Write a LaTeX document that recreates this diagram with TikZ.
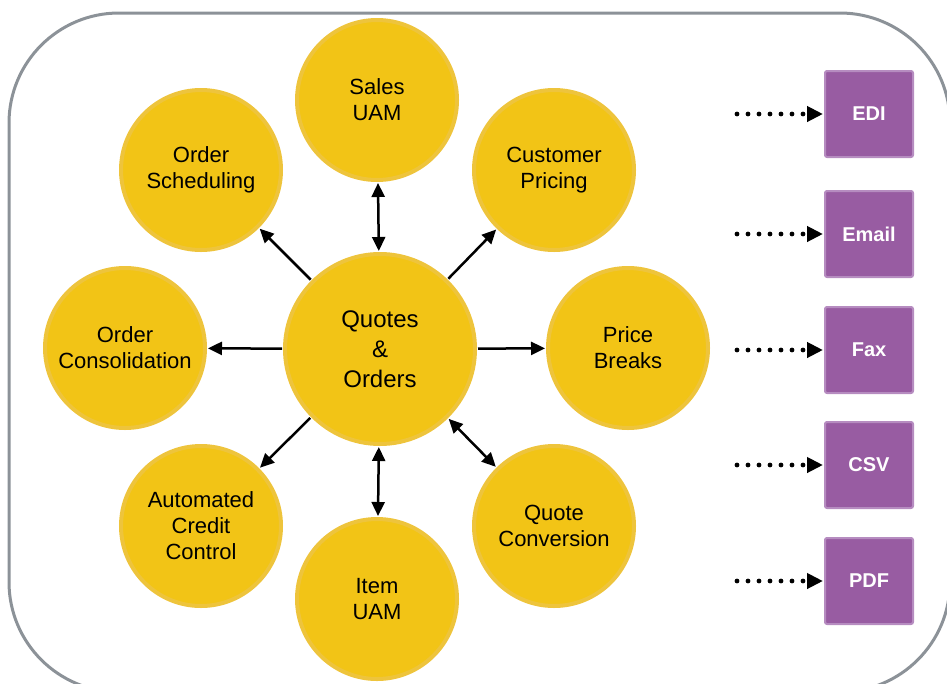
\documentclass[tikz,border=0pt]{standalone}
\usepackage{fontspec}
\setmainfont{Liberation Sans}
\usetikzlibrary{arrows.meta}
\definecolor{circY}{RGB}{242,196,22}
\definecolor{circEdge}{RGB}{238,196,60}
\definecolor{circHalo}{RGB}{250,232,160}
\definecolor{boxP}{RGB}{152,92,162}
\definecolor{boxEdge}{RGB}{182,140,192}
\definecolor{frameG}{RGB}{140,146,152}
\begin{document}
\begin{tikzpicture}[x=1pt,y=-1pt,
  sat/.style={circle, fill=circY, draw=circEdge, line width=2pt, minimum size=160pt, inner sep=0pt, align=center, font=\fontsize{22}{26}\selectfont, double=circHalo, double distance=0pt},
  hub/.style={sat, minimum size=190pt, font=\fontsize{24}{30}\selectfont},
  chan/.style={fill=boxP, draw=boxEdge, line width=2pt, rounded corners=2pt, minimum width=88pt, minimum height=86pt, inner sep=0pt, font=\fontsize{20}{24}\selectfont\bfseries, text=white},
  link/.style={line width=2.5pt, shorten <=2pt, shorten >=2pt},
  one/.style={link, -{Triangle[length=14pt,width=13pt]}},
  two/.style={link, {Triangle[length=14pt,width=13pt]}-{Triangle[length=14pt,width=13pt]}},
  dots/.style={line width=4.8pt, line cap=round, dash pattern=on 0pt off 11pt, shorten >=1pt, -{Triangle[length=16pt,width=15pt]}}
]
\useasboundingbox (0,0) rectangle (947,683);
\begin{scope}
\clip (0,0) rectangle (947,683);
\draw[frameG, line width=3pt, rounded corners=110pt] (9,13) rectangle (950,692);
\end{scope}

\node[hub] (hub) at (380,349) {Quotes\\\&\\Orders};
\node[sat] (sales) at (377,100) {Sales\\UAM};
\node[sat] (cust) at (554,170) {Customer\\Pricing};
\node[sat] (price) at (628,348) {Price\\Breaks};
\node[sat] (conv) at (554,526) {Quote\\Conversion};
\node[sat] (item) at (377,599) {Item\\UAM};
\node[sat] (credit) at (201,526) {Automated\\Credit\\Control};
\node[sat] (consol) at (125,348) {Order\\Consolidation};
\node[sat] (sched) at (201,170) {Order\\Scheduling};

\draw[two] (hub) -- (sales);
\draw[one] (hub) -- (cust);
\draw[one] (hub) -- (price);
\draw[two] (hub) -- (conv);
\draw[two] (hub) -- (item);
\draw[one] (hub) -- (credit);
\draw[one] (hub) -- (consol);
\draw[one] (hub) -- (sched);

\node[chan] (edi) at (869,114) {EDI};
\node[chan] (email) at (869,234) {Email};
\node[chan] (fax) at (869,350) {Fax};
\node[chan] (csv) at (869,465) {CSV};
\node[chan] (pdf) at (869,581) {PDF};

\coordinate (s1) at (737,114);
\coordinate (s2) at (737,234);
\coordinate (s3) at (737,350);
\coordinate (s4) at (737,465);
\coordinate (s5) at (737,581);
\draw[dots] (s1) -- (edi);
\draw[dots] (s2) -- (email);
\draw[dots] (s3) -- (fax);
\draw[dots] (s4) -- (csv);
\draw[dots] (s5) -- (pdf);
\end{tikzpicture}
\end{document}
